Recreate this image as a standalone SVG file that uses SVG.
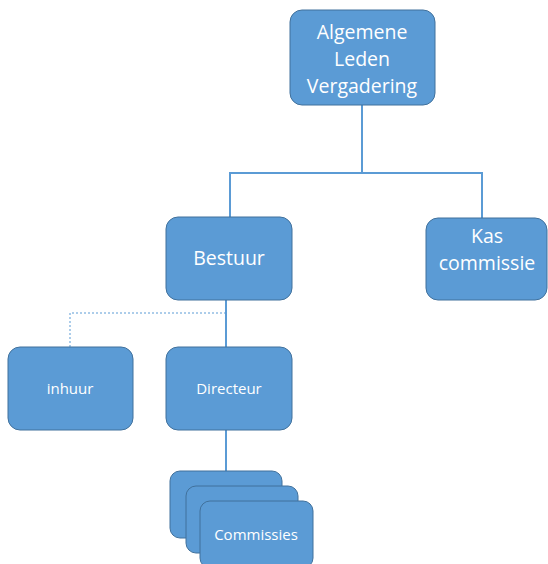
<svg xmlns="http://www.w3.org/2000/svg" width="548" height="564" viewBox="0 0 548 564">
<style>
.box{fill:#5B9BD5;stroke:#41719C;stroke-width:1}
.ln{fill:none;stroke:#5B9BD5;stroke-width:2}
.dash{fill:none;stroke:#5B9BD5;stroke-width:1;stroke-dasharray:2 2}
.t{fill:#fff;font-family:"Open Sans","Liberation Sans",sans-serif;text-anchor:middle}
.big{font-size:19.5px}
.sm{font-size:15px}
</style>
<rect width="548" height="564" fill="#fff"/>
<g id="connectors">
<path class="ln" d="M362 105V173M230 218V173H482V218"/>
<path class="ln" d="M226 300V347"/>
<path class="dash" d="M226 313H70V347"/>
<path class="ln" d="M226 430V471"/>
</g>
<g id="alv">
<rect class="box" x="290" y="10" width="145" height="95" rx="12"/>
<text class="t big" x="362" y="39">Algemene</text>
<text class="t big" x="362" y="66">Leden</text>
<text class="t big" x="362" y="93">Vergadering</text>
</g>
<g id="bestuur">
<rect class="box" x="166" y="217" width="126" height="83" rx="12"/>
<text class="t big" x="229" y="265">Bestuur</text>
</g>
<g id="kascommissie">
<rect class="box" x="426" y="218" width="121" height="82" rx="12"/>
<text class="t big" x="487" y="243">Kas</text>
<text class="t big" x="487" y="270">commissie</text>
</g>
<g id="inhuur">
<rect class="box" x="8" y="347" width="125" height="83" rx="12"/>
<text class="t sm" x="70" y="394">inhuur</text>
</g>
<g id="directeur">
<rect class="box" x="166" y="347" width="126" height="83" rx="12"/>
<text class="t sm" x="229" y="394">Directeur</text>
</g>
<g id="commissies">
<rect class="box" x="170" y="471" width="112" height="67" rx="10"/>
<rect class="box" x="186" y="486" width="112" height="67" rx="10"/>
<rect class="box" x="200" y="501" width="113" height="67" rx="10"/>
<text class="t sm" x="256" y="540">Commissies</text>
</g>
</svg>
